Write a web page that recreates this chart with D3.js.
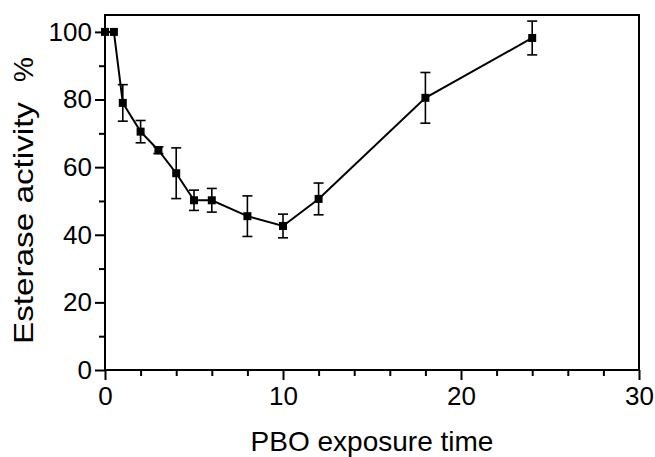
<!DOCTYPE html>
<html>
<head>
<meta charset="utf-8">
<script src="https://cdn.jsdelivr.net/npm/d3@7"></script>
<style>
  body { margin: 0; background: #fff; }
  text { font-family: "Liberation Sans", Arial, sans-serif; fill: #000; }
</style>
</head>
<body>
<svg id="chart" width="655" height="457"></svg>
<script>
// data
const hours = [0, 0.5, 1, 2, 3, 4, 5, 6, 8, 10, 12, 18, 24];
const activity = [100, 100, 79, 70.5, 65, 58.2, 50.2, 50.2, 45.5, 42.6, 50.6, 80.5, 98.2];
const errors = [0, 0, 5.4, 3.3, 1, 7.5, 3, 3.5, 6, 3.5, 4.7, 7.5, 5];

const xMajor = [0, 10, 20, 30];
const xMinor = [2, 4, 6, 8, 12, 14, 16, 18, 22, 24, 26, 28];
const yMajor = [0, 20, 40, 60, 80, 100];
const yMinor = [10, 30, 50, 70, 90];

const plotLeft = 105, plotRight = 639, plotTop = 15, plotBottom = 370;

const svg = d3.select("#chart");

const x = d3.scaleLinear().domain([0, 30]).range([plotLeft, plotRight]);
const y = d3.scaleLinear().domain([0, 105]).range([plotBottom, plotTop]);

// frame
svg.append("rect")
    .attr("x", plotLeft).attr("y", plotTop)
    .attr("width", plotRight - plotLeft).attr("height", plotBottom - plotTop)
    .attr("fill", "none").attr("stroke", "#000").attr("stroke-width", 2);

// axes
function styleAxis(g) {
  g.select(".domain").remove();
  g.selectAll("line").attr("stroke", "#000").attr("stroke-width", 2);
  g.selectAll("text").attr("font-size", 26).attr("font-family", "Liberation Sans, Arial, sans-serif");
}

svg.append("g").attr("transform", `translate(0,${plotBottom})`)
    .call(d3.axisBottom(x).tickValues(xMajor).tickSize(10).tickPadding(7).tickFormat(d3.format("d")))
    .call(styleAxis);
svg.append("g").attr("transform", `translate(0,${plotBottom})`)
    .call(d3.axisBottom(x).tickValues(xMinor).tickSize(6).tickFormat(""))
    .call(styleAxis);
svg.append("g").attr("transform", `translate(${plotLeft},0)`)
    .call(d3.axisLeft(y).tickValues(yMajor).tickSize(10).tickPadding(3).tickFormat(d3.format("d")))
    .call(styleAxis);
svg.append("g").attr("transform", `translate(${plotLeft},0)`)
    .call(d3.axisLeft(y).tickValues(yMinor).tickSize(6).tickFormat(""))
    .call(styleAxis);

// axis titles
svg.append("text")
    .attr("x", (plotLeft + plotRight) / 2).attr("y", 451)
    .attr("text-anchor", "middle").attr("font-size", 28)
    .text("PBO exposure time");

const yTitle = svg.append("g").attr("transform", "translate(33,0) rotate(-90)");
yTitle.append("text")
    .attr("x", -344).attr("y", 0)
    .attr("text-anchor", "start").attr("font-size", 28)
    .attr("textLength", 242).attr("lengthAdjust", "spacingAndGlyphs")
    .text("Esterase activity");
yTitle.append("text")
    .attr("x", -57).attr("y", 0)
    .attr("text-anchor", "end").attr("font-size", 28)
    .text("%");

const pts = hours.map((h, i) => ({h, v: activity[i], e: errors[i]}));

// error bars
const eb = svg.append("g").attr("stroke", "#000").attr("stroke-width", 1.6);
pts.filter(d => d.e > 0).forEach(d => {
  const cx = x(d.h);
  eb.append("line").attr("x1", cx).attr("x2", cx).attr("y1", y(d.v + d.e)).attr("y2", y(d.v - d.e));
  eb.append("line").attr("x1", cx - 5).attr("x2", cx + 5).attr("y1", y(d.v + d.e)).attr("y2", y(d.v + d.e));
  eb.append("line").attr("x1", cx - 5).attr("x2", cx + 5).attr("y1", y(d.v - d.e)).attr("y2", y(d.v - d.e));
});

// line
svg.append("path")
    .datum(pts)
    .attr("fill", "none").attr("stroke", "#000").attr("stroke-width", 2)
    .attr("d", d3.line().x(d => x(d.h)).y(d => y(d.v)));

// markers
svg.selectAll("rect.pt")
    .data(pts)
    .enter().append("rect")
    .attr("class", "pt")
    .attr("x", d => x(d.h) - 4).attr("y", d => y(d.v) - 4)
    .attr("width", 8).attr("height", 8)
    .attr("fill", "#000");
</script>
</body>
</html>
